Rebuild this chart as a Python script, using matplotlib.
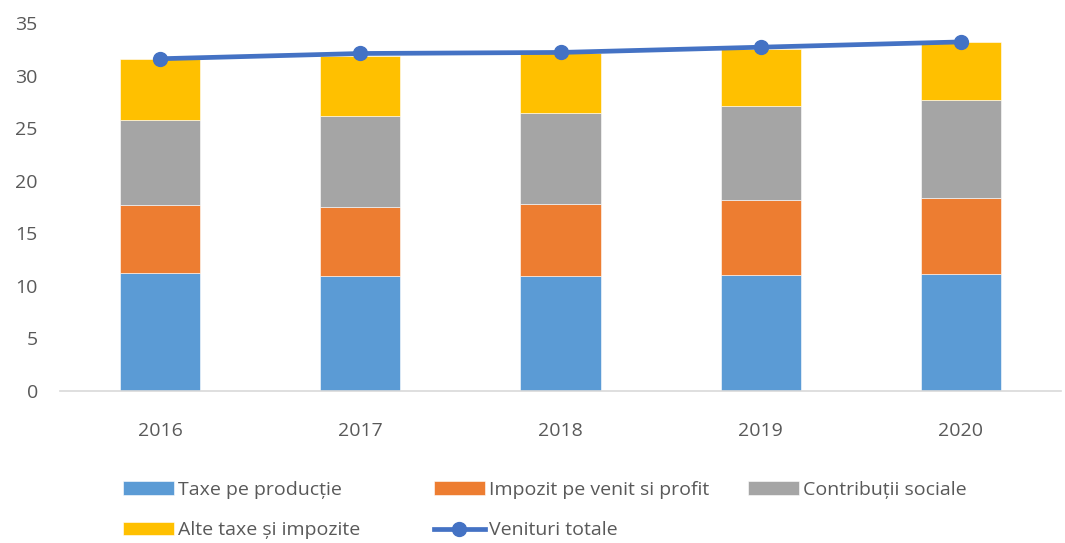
import numpy as np
import matplotlib
matplotlib.use("Agg")
import matplotlib.pyplot as plt

plt.rcParams['font.family'] = ['Open Sans', 'DejaVu Sans']

years = ["2016", "2017", "2018", "2019", "2020"]
taxe_productie = [11.26, 10.97, 10.97, 11.00, 11.13]
impozit_venit = [6.41, 6.51, 6.79, 7.14, 7.20]
contributii = [8.11, 8.66, 8.69, 9.01, 9.39]
alte_taxe = [5.78, 5.73, 5.71, 5.35, 5.46]
venituri_totale = [31.6, 32.1, 32.2, 32.7, 33.2]

labels = ["Taxe pe producție", "Impozit pe venit si profit", "Contribuții sociale",
          "Alte taxe și impozite", "Venituri totale"]
colors = ["#5B9BD5", "#ED7D31", "#A5A5A5", "#FFC000"]
line_color = "#4472C4"
text_color = "#595959"

fig = plt.figure(figsize=(10.65, 5.43), dpi=100)
ax = fig.add_axes([60 / 1065, 1 - 391 / 543, 1001 / 1065, (391 - 23) / 543])

x = np.arange(len(years))
bottom = np.zeros(len(years))
bars = []
for vals, c, lab in zip([taxe_productie, impozit_venit, contributii, alte_taxe], colors, labels[:4]):
    b = ax.bar(x, vals, width=0.4, bottom=bottom, color=c, edgecolor="white",
               linewidth=0.4, label=lab, zorder=2)
    bars.append(b)
    bottom += np.array(vals)

line, = ax.plot(x, venituri_totale, color=line_color, lw=3.4, marker="o",
                markersize=10, label=labels[4], zorder=3)

ax.set_xlim(-0.5, len(years) - 0.5)
ax.set_ylim(0, 35)
ax.set_yticks(range(0, 36, 5))
ax.set_xticks(x)
ax.set_xticklabels(years)
ax.tick_params(axis="both", length=0, labelsize=14, labelcolor=text_color)
ax.tick_params(axis="x", pad=22)
ax.tick_params(axis="y", pad=16)
for s in ["top", "right", "left"]:
    ax.spines[s].set_visible(False)
ax.spines["bottom"].set_color("#D9D9D9")
ax.spines["bottom"].set_linewidth(1.2)

# legend columns placed like the original
cols = [([bars[0], bars[3]], [labels[0], labels[3]], 123),
        ([bars[1], line], [labels[1], labels[4]], 434),
        ([bars[2]], [labels[2]], 748)]
for handles, labs, xpx in cols:
    leg = fig.legend(handles, labs, loc="upper left",
                     bbox_to_anchor=(xpx / 1065, 1 - 481 / 543),
                     frameon=False, fontsize=14, handlelength=2.6,
                     handletextpad=0.25, borderpad=0, borderaxespad=0,
                     labelspacing=1.15, labelcolor=text_color)

fig.savefig("out.png", dpi=100)
